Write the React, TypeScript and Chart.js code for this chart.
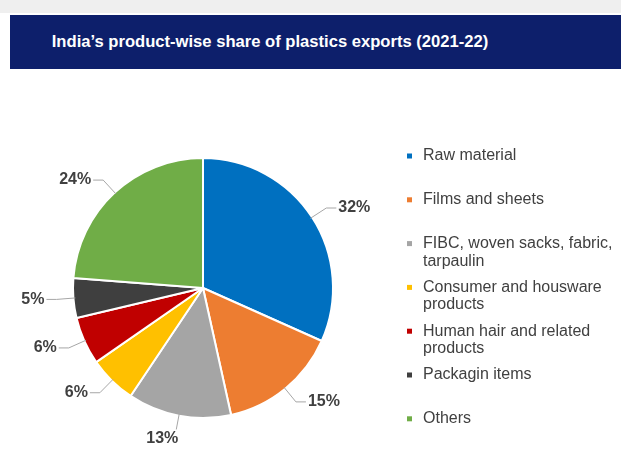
import React, { useEffect, useRef } from "react";
import { Chart, registerables } from "chart.js";

Chart.register(...registerables);

const title = "India’s product-wise share of plastics exports (2021-22)";
const categories = [
  "Raw material",
  "Films and sheets",
  "FIBC, woven sacks, fabric, tarpaulin",
  "Consumer and housware products",
  "Human hair and related products",
  "Packagin items",
  "Others",
];
const legendLines = [
  ["Raw material"],
  ["Films and sheets"],
  ["FIBC, woven sacks, fabric,", "tarpaulin"],
  ["Consumer and housware", "products"],
  ["Human hair and related", "products"],
  ["Packagin items"],
  ["Others"],
];
const shares = [32, 15, 13, 6, 6, 5, 24];
const colors = ["#0070c0", "#ed7d31", "#a5a5a5", "#ffc000", "#c00000", "#3f3f3f", "#70ad47"];

const FONT = "'Liberation Sans', Arial, sans-serif";

const labelPlugin = {
  id: "pieLabels",
  afterDatasetsDraw(chart: any) {
    const ctx = chart.ctx as CanvasRenderingContext2D;
    const meta = chart.getDatasetMeta(0);
    ctx.save();
    ctx.font = `bold 16px ${FONT}`;
    ctx.fillStyle = "#404040";
    ctx.strokeStyle = "#a6a6a6";
    ctx.lineWidth = 1;
    meta.data.forEach((arc: any, i: number) => {
      const { x, y, startAngle, endAngle, outerRadius } = arc.getProps(
        ["x", "y", "startAngle", "endAngle", "outerRadius"],
        true
      );
      const mid = (startAngle + endAngle) / 2;
      const c = Math.cos(mid);
      const s = Math.sin(mid);
      const p0 = { x: x + c * (outerRadius - 2), y: y + s * (outerRadius - 2) };
      const text = shares[i] + "%";
      if (Math.abs(c) < 0.25) {
        const r1 = outerRadius + 14;
        const p1 = { x: x + c * r1, y: y + s * r1 };
        ctx.beginPath();
        ctx.moveTo(p0.x, p0.y);
        ctx.lineTo(p1.x, p1.y);
        ctx.stroke();
        ctx.textAlign = c < 0 ? "right" : "left";
        ctx.textBaseline = s > 0 ? "top" : "bottom";
        ctx.fillText(text, p1.x + (c < 0 ? 2 : -2), p1.y + (s > 0 ? 1 : -1));
      } else {
        const r1 = outerRadius + 17;
        const p1 = { x: x + c * r1, y: y + s * r1 };
        const dir = c > 0 ? 1 : -1;
        const p2 = { x: p1.x + dir * 10, y: p1.y };
        ctx.beginPath();
        ctx.moveTo(p0.x, p0.y);
        ctx.lineTo(p1.x, p1.y);
        ctx.lineTo(p2.x, p2.y);
        ctx.stroke();
        ctx.textAlign = dir > 0 ? "left" : "right";
        ctx.textBaseline = "middle";
        ctx.fillText(text, p2.x + dir * 2, p2.y);
      }
    });

    // legend
    const lx = 407;
    const ty = 86;
    const step = 43.8;
    const lineH = 17.5;
    ctx.font = `16px ${FONT}`;
    ctx.textAlign = "left";
    ctx.textBaseline = "middle";
    legendLines.forEach((lines, i) => {
      const yy = ty + i * step;
      ctx.fillStyle = colors[i];
      ctx.fillRect(lx, yy - 2.5, 5, 5);
      ctx.fillStyle = "#404040";
      lines.forEach((ln, j) => {
        ctx.fillText(ln, lx + 16, yy + j * lineH);
      });
    });
    ctx.restore();
  },
};

export default function App() {
  const ref = useRef<HTMLCanvasElement | null>(null);
  useEffect(() => {
    document.body.style.margin = "0";
    if (!ref.current) return;
    const chart = new Chart(ref.current, {
      type: "pie",
      data: {
        labels: categories,
        datasets: [
          {
            data: shares,
            backgroundColor: colors,
            borderColor: "#ffffff",
            borderWidth: 2,
            hoverOffset: 0,
          },
        ],
      },
      options: {
        responsive: false,
        animation: false,
        radius: 130,
        layout: { padding: { left: 73, right: 288, top: 88, bottom: 32 } },
        plugins: {
          legend: { display: false },
          tooltip: { enabled: false },
        },
      } as any,
      plugins: [labelPlugin],
    });
    return () => chart.destroy();
  }, []);

  return (
    <div style={{ position: "relative", width: 621, height: 450, background: "#ffffff", overflow: "hidden" }}>
      <div style={{ position: "absolute", left: 0, top: 0, width: 621, height: 13, background: "#efefef" }} />
      <div style={{ position: "absolute", left: 10, top: 15, width: 611, height: 54, background: "#0d1f6b" }} />
      <div
        style={{
          position: "absolute",
          left: 0,
          top: 15,
          width: 540,
          height: 54,
          lineHeight: "54px",
          textAlign: "center",
          color: "#ffffff",
          fontFamily: FONT,
          fontWeight: "bold",
          fontSize: 16.6,
        }}
      >
        {title}
      </div>
      <canvas ref={ref} width={621} height={380} style={{ position: "absolute", left: 0, top: 70, width: 621, height: 380 }} />
    </div>
  );
}
